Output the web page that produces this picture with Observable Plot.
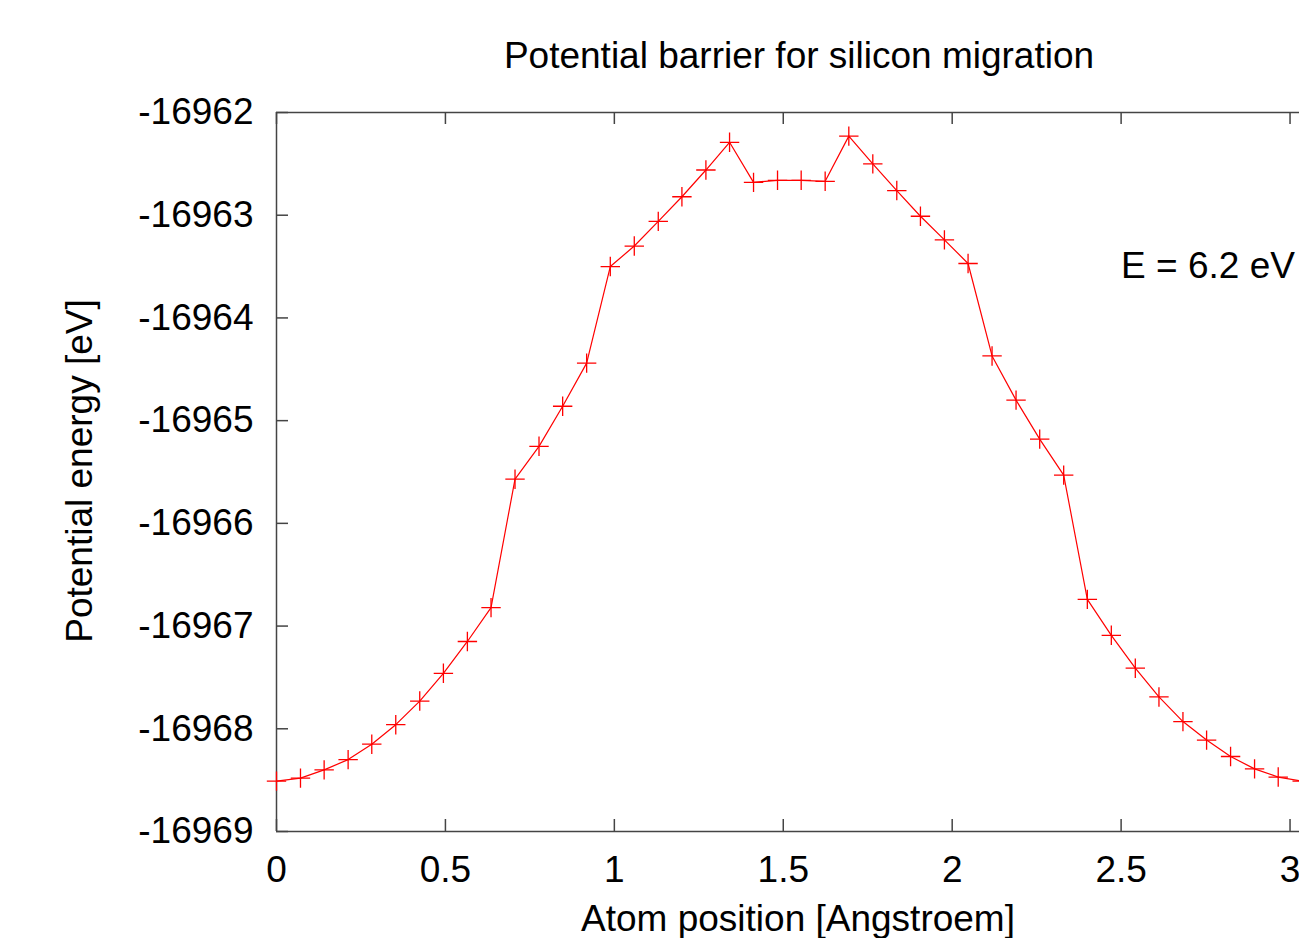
<!DOCTYPE html>
<html>
<head>
<meta charset="utf-8">
<script src="https://cdn.jsdelivr.net/npm/d3@7"></script>
<script src="https://cdn.jsdelivr.net/npm/@observablehq/plot@0.6"></script>
<style>
  html, body { margin: 0; padding: 0; background: white; overflow: hidden; }
</style>
</head>
<body>
<div id="chart"></div>
<script>
// Atom position along the migration path [Angstroem]
const position = [
  0.000, 0.071, 0.141, 0.212, 0.282, 0.353, 0.424, 0.494, 0.565, 0.635,
  0.706, 0.777, 0.847, 0.918, 0.988, 1.059, 1.130, 1.200, 1.271, 1.341,
  1.412, 1.483, 1.553, 1.624, 1.694, 1.765, 1.836, 1.906, 1.977, 2.047,
  2.118, 2.189, 2.259, 2.330, 2.400, 2.471, 2.542, 2.612, 2.683, 2.753,
  2.824, 2.895, 2.965, 3.036
];

// Total potential energy at each position [eV]
const energy = [
  -16968.51, -16968.48, -16968.40, -16968.30, -16968.15, -16967.96, -16967.73, -16967.46, -16967.15, -16966.82,
  -16965.57, -16965.25, -16964.86, -16964.44, -16963.50, -16963.30, -16963.06, -16962.82, -16962.56, -16962.29,
  -16962.68, -16962.66, -16962.66, -16962.67, -16962.23, -16962.50, -16962.76, -16963.01, -16963.24, -16963.47,
  -16964.37, -16964.80, -16965.18, -16965.53, -16966.74, -16967.09, -16967.41, -16967.69, -16967.93, -16968.11,
  -16968.27, -16968.39, -16968.47, -16968.51
];

const xTicks = [0, 0.5, 1, 1.5, 2, 2.5, 3];
const yTicks = [-16969, -16968, -16967, -16966, -16965, -16964, -16963, -16962];

const titleText = "Potential barrier for silicon migration";
const xLabel = "Atom position [Angstroem]";
const yLabel = "Potential energy [eV]";
const barrierLabel = "E = 6.2 eV";

const points = position.map((x, i) => ({x, y: energy[i]}));

const W = 1299, H = 938;
const mTop = 112, mBottom = 107, mLeft = 276, mRight = 0;
const frameW = W - mLeft - mRight;
const frameH = H - mTop - mBottom;
const tickLen = 12;
const axisColor = "#444";
const fs = 37;

const chart = Plot.plot({
  width: W,
  height: H,
  marginTop: mTop,
  marginBottom: mBottom,
  marginLeft: mLeft,
  marginRight: mRight,
  style: {fontFamily: "'Liberation Sans', Arial, Helvetica, sans-serif", fontSize: fs + "px", color: "black", background: "white"},
  x: {domain: [0, 3.028], ticks: xTicks},
  y: {domain: [-16969, -16962], ticks: yTicks},
  marks: [
    // tick labels
    Plot.axisX(xTicks, {tickSize: 0, tickPadding: 24, tickFormat: d => String(d), label: null, fontSize: fs}),
    Plot.axisY(yTicks, {tickSize: 0, tickPadding: 23, tickFormat: d => String(d), label: null, fontSize: fs}),
    // frame (top, bottom, left)
    Plot.ruleY([-16962, -16969], {stroke: axisColor, strokeWidth: 1.5}),
    Plot.ruleX([0], {stroke: axisColor, strokeWidth: 1.5}),
    // inward tick marks, mirrored on top
    Plot.tickX(xTicks, {x: d => d, insetTop: frameH - tickLen, stroke: axisColor, strokeWidth: 1.5}),
    Plot.tickX(xTicks, {x: d => d, insetBottom: frameH - tickLen, stroke: axisColor, strokeWidth: 1.5}),
    Plot.tickY(yTicks, {y: d => d, insetRight: frameW - tickLen, stroke: axisColor, strokeWidth: 1.5}),
    // energy curve
    Plot.line(points, {x: "x", y: "y", stroke: "#ff0000", strokeWidth: 1.2, clip: true}),
    Plot.dot(points, {x: "x", y: "y", symbol: "plus", r: 6.3, stroke: "#ff0000", strokeWidth: 1.3}),
    // barrier annotation
    Plot.text([barrierLabel], {x: 2.5, y: -16963.5, text: d => d, textAnchor: "start", lineAnchor: "middle", fontSize: fs, fill: "black"}),
    // title and axis labels
    Plot.text([titleText], {frameAnchor: "top", text: d => d, dx: 11, dy: -45, lineAnchor: "bottom", fontSize: fs, fill: "black"}),
    Plot.text([xLabel], {frameAnchor: "bottom", text: d => d, dx: 10, dy: 99, lineAnchor: "bottom", fontSize: fs, fill: "black"}),
    Plot.text([yLabel], {frameAnchor: "left", text: d => d, dx: -196, dy: -1, rotate: -90, textAnchor: "middle", lineAnchor: "middle", fontSize: fs, fill: "black"})
  ]
});

document.getElementById("chart").appendChild(chart);
</script>
</body>
</html>
